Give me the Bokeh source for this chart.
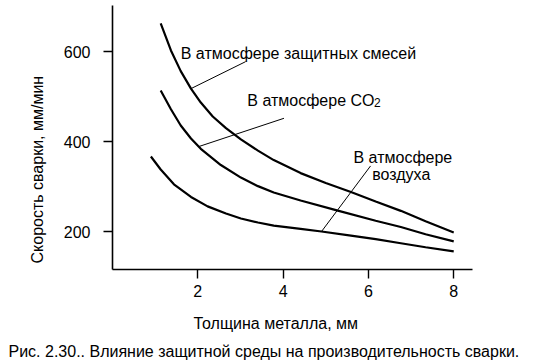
import math
from bokeh.plotting import figure
from bokeh.models import Range1d, FixedTicker, Label, Title
from bokeh.embed import file_html
from bokeh.resources import INLINE

# --- data ---
thickness_mix = [1.13, 1.37, 1.60, 1.84, 2.07, 2.35, 2.66, 3.01, 3.41, 3.78, 4.41, 5.00, 5.59, 6.17, 6.76, 7.34, 8.0]
speed_mix = [663, 603, 557, 518, 487, 456, 430, 405, 380, 359, 330, 308, 288, 267, 246, 223, 198]

thickness_co2 = [1.13, 1.37, 1.60, 1.84, 2.07, 2.54, 3.01, 3.41, 3.78, 4.41, 5.26, 6.17, 6.76, 7.34, 8.0]
speed_co2 = [514, 472, 436, 407, 384, 348, 320, 301, 287, 269, 247, 224, 210, 194, 178]

thickness_air = [0.90, 1.13, 1.44, 1.84, 2.23, 2.66, 3.01, 3.41, 3.78, 4.41, 4.90, 5.59, 6.17, 6.76, 7.34, 8.0]
speed_air = [367, 338, 305, 277, 256, 240, 229, 220, 213, 206, 200, 191, 183, 174, 165, 156]

x_ticks = [2, 4, 6, 8]
y_ticks = [200, 400, 600]

label_mix = "В атмосфере  защитных смесей"
label_co2 = "В атмосфере CO"
label_co2_sub = "2"
label_air_1 = "В атмосфере"
label_air_2 = "воздуха"
x_title = "Толщина металла,  мм"
y_title = "Скорость сварки,  мм/мин"
caption = "Рис. 2.30..   Влияние защитной среды на производительность сварки."

# leader lines (from curve to label)
leader_x0 = [1.84, 2.02, 4.90]
leader_y0 = [518, 389, 200]
leader_x1 = [3.12, 4.02, 6.05]
leader_y1 = [578, 452, 346]

FONT = "Liberation Sans"

p = figure(width=534, height=364, output_backend="svg", toolbar_location=None,
           x_range=Range1d(0, 8.44), y_range=Range1d(115.5, 703.0),
           min_border_left=112, min_border_right=62, min_border_top=5,
           min_border_bottom=95)
p.outline_line_color = None
p.grid.visible = False
p.background_fill_color = "white"
p.border_fill_color = "white"

p.xaxis.ticker = FixedTicker(ticks=x_ticks)
p.yaxis.ticker = FixedTicker(ticks=y_ticks)
for ax in (p.xaxis, p.yaxis):
    ax.axis_line_width = 1.6
    ax.axis_line_color = "black"
    ax.major_tick_line_width = 1.4
    ax.major_tick_line_color = "black"
    ax.major_tick_out = 9
    ax.major_tick_in = 0
    ax.minor_tick_line_color = None
    ax.major_label_text_font = FONT
    ax.major_label_text_font_size = "16px"
    ax.major_label_text_color = "black"
p.xaxis.major_label_standoff = 6
p.yaxis.major_label_standoff = 13

for xs, ys in ((thickness_mix, speed_mix), (thickness_co2, speed_co2), (thickness_air, speed_air)):
    p.line(xs, ys, line_color="black", line_width=2.2)

p.segment(leader_x0, leader_y0, leader_x1, leader_y1, line_color="black", line_width=1)

def lab(x, y, text, size="16px"):
    p.add_layout(Label(x=x, y=y, text=text, text_font=FONT, text_font_size=size,
                       text_color="black", text_align="left", text_baseline="alphabetic"))

lab(1.60, 595.5, label_mix)
lab(3.16, 491.6, label_co2)
lab(6.13, 486.5, label_co2_sub, size="12px")
lab(5.65, 365.4, label_air_1)
lab(6.09, 326.9, label_air_2)

def title(text, side, align, offset, standoff):
    t = Title(text=text, align=align, offset=offset, standoff=standoff,
              text_font=FONT, text_font_size="16px", text_font_style="normal",
              text_color="black")
    p.add_layout(t, side)

title(x_title, "below", "left", 81, 26)
title(caption, "below", "left", -104, -8)
title(y_title, "left", "left", 6, 29)

open("out.html", "w").write(file_html(p, INLINE))
